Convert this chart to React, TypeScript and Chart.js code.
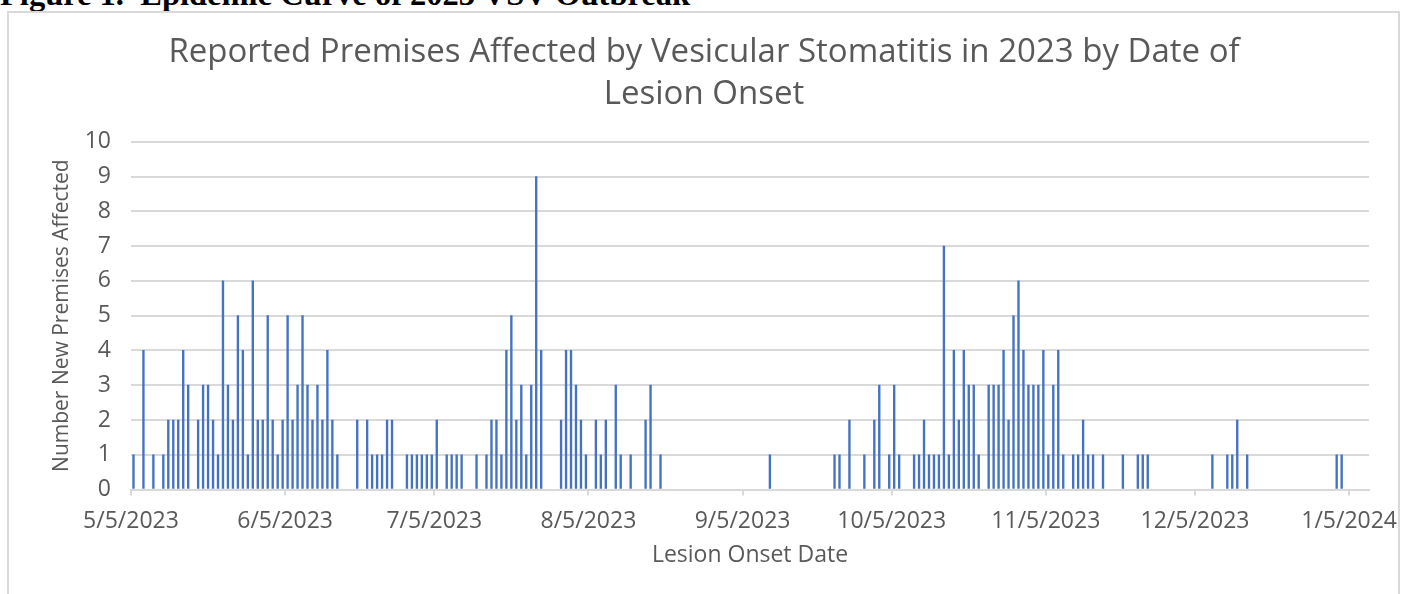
import React, { useEffect, useRef } from "react";
import { Chart, registerables } from "chart.js";

Chart.register(...registerables);

// Lesion onset dates (days with at least one newly affected premises)
const onsetDates: string[] = [
  "2023-05-05", "2023-05-07", "2023-05-09", "2023-05-11", "2023-05-12", "2023-05-13", "2023-05-14", "2023-05-15",
  "2023-05-16", "2023-05-18", "2023-05-19", "2023-05-20", "2023-05-21", "2023-05-22", "2023-05-23", "2023-05-24",
  "2023-05-25", "2023-05-26", "2023-05-27", "2023-05-28", "2023-05-29", "2023-05-30", "2023-05-31",
  "2023-06-01", "2023-06-02", "2023-06-03", "2023-06-04", "2023-06-05", "2023-06-06", "2023-06-07", "2023-06-08",
  "2023-06-09", "2023-06-10", "2023-06-11", "2023-06-12", "2023-06-13", "2023-06-14", "2023-06-15", "2023-06-19",
  "2023-06-21", "2023-06-22", "2023-06-23", "2023-06-24", "2023-06-25", "2023-06-26", "2023-06-29", "2023-06-30",
  "2023-07-01", "2023-07-02", "2023-07-03", "2023-07-04", "2023-07-05", "2023-07-07", "2023-07-08", "2023-07-09",
  "2023-07-10", "2023-07-13", "2023-07-15", "2023-07-16", "2023-07-17", "2023-07-18", "2023-07-19", "2023-07-20",
  "2023-07-21", "2023-07-22", "2023-07-23", "2023-07-24", "2023-07-25", "2023-07-26", "2023-07-30", "2023-07-31",
  "2023-08-01", "2023-08-02", "2023-08-03", "2023-08-04", "2023-08-06", "2023-08-07", "2023-08-08", "2023-08-10",
  "2023-08-11", "2023-08-13", "2023-08-16", "2023-08-17", "2023-08-19",
  "2023-09-10", "2023-09-23", "2023-09-24", "2023-09-26", "2023-09-29",
  "2023-10-01", "2023-10-02", "2023-10-04", "2023-10-05", "2023-10-06", "2023-10-09", "2023-10-10", "2023-10-11",
  "2023-10-12", "2023-10-13", "2023-10-14", "2023-10-15", "2023-10-16", "2023-10-17", "2023-10-18", "2023-10-19",
  "2023-10-20", "2023-10-21", "2023-10-22", "2023-10-24", "2023-10-25", "2023-10-26", "2023-10-27", "2023-10-28",
  "2023-10-29", "2023-10-30", "2023-10-31",
  "2023-11-01", "2023-11-02", "2023-11-03", "2023-11-04", "2023-11-05", "2023-11-06", "2023-11-07", "2023-11-08",
  "2023-11-10", "2023-11-11", "2023-11-12", "2023-11-13", "2023-11-14", "2023-11-16", "2023-11-20", "2023-11-23",
  "2023-11-24", "2023-11-25",
  "2023-12-08", "2023-12-11", "2023-12-12", "2023-12-13", "2023-12-15",
  "2024-01-02", "2024-01-03",
];

// Number of new premises affected on each onset date
const newPremises: number[] = [
  1, 4, 1, 1, 2, 2, 2, 4,
  3, 2, 3, 3, 2, 1, 6, 3,
  2, 5, 4, 1, 6, 2, 2,
  5, 2, 1, 2, 5, 2, 3, 5,
  3, 2, 3, 2, 4, 2, 1, 2,
  2, 1, 1, 1, 2, 2, 1, 1,
  1, 1, 1, 1, 2, 1, 1, 1,
  1, 1, 1, 2, 2, 1, 4, 5,
  2, 3, 1, 3, 9, 4, 2, 4,
  4, 3, 2, 1, 2, 1, 2, 3,
  1, 1, 2, 3, 1,
  1, 1, 1, 2, 1,
  2, 3, 1, 3, 1, 1, 1, 2,
  1, 1, 1, 7, 1, 4, 2, 4,
  3, 3, 1, 3, 3, 3, 4, 2,
  5, 6, 4,
  3, 3, 3, 4, 1, 3, 4, 1,
  1, 1, 2, 1, 1, 1, 1, 1,
  1, 1,
  1, 1, 1, 2, 1,
  1, 1,
];

// Axis extent and monthly tick marks
const axisStartDate = "2023-05-05";
const axisEndDate = "2024-01-09";
const tickDates: string[] = [
  "2023-05-05", "2023-06-05", "2023-07-05", "2023-08-05", "2023-09-05",
  "2023-10-05", "2023-11-05", "2023-12-05", "2024-01-05",
];
const tickLabels: string[] = [
  "5/5/2023", "6/5/2023", "7/5/2023", "8/5/2023", "9/5/2023",
  "10/5/2023", "11/5/2023", "12/5/2023", "1/5/2024",
];

const yTicks: number[] = [0, 1, 2, 3, 4, 5, 6, 7, 8, 9, 10];

const DAY = 86400000;
const dayIndex = (iso: string) =>
  Math.round((new Date(iso).getTime() - new Date(axisStartDate).getTime()) / DAY);

const FONT = '"Open Sans", "Segoe UI", Arial, sans-serif';
const GRAY_TEXT = "#595959";
const GRID = "#D9D9D9";

export default function App() {
  const canvasRef = useRef<HTMLCanvasElement>(null);

  useEffect(() => {
    const canvas = canvasRef.current;
    if (!canvas) return;
    const tickDays = tickDates.map(dayIndex);
    const data = onsetDates.map((d, i) => ({ x: dayIndex(d) + 0.5, y: newPremises[i] }));

    const chart = new Chart(canvas, {
      type: "bar",
      data: {
        datasets: [
          {
            label: "New premises",
            data,
            backgroundColor: "#4472C4",
            borderWidth: 0,
            barThickness: 1.7,
          },
        ],
      },
      options: {
        responsive: false,
        animation: false,
        devicePixelRatio: 1,
        layout: { padding: { left: 39, right: 42, top: 8, bottom: 10 } },
        plugins: {
          legend: { display: false },
          tooltip: { enabled: false },
          title: {
            display: true,
            text: [
              "Reported Premises Affected by Vesicular Stomatitis in 2023 by Date of",
              "Lesion Onset",
            ],
            color: GRAY_TEXT,
            font: { family: FONT, size: 33, weight: "normal", lineHeight: 1.27 },
            padding: { top: 24, bottom: 26 },
          },
        },
        scales: {
          x: {
            type: "linear",
            offset: false,
            min: 0,
            max: dayIndex(axisEndDate),
            afterBuildTicks: (scale: any) => {
              scale.ticks = tickDays.map((v) => ({ value: v }));
            },
            afterFit: (scale: any) => {
              scale.height = 94.5;
            },
            ticks: {
              autoSkip: false,
              maxRotation: 0,
              minRotation: 0,
              padding: 12,
              color: GRAY_TEXT,
              font: { family: FONT, size: 23 },
              callback: (value: any) => {
                const idx = tickDays.indexOf(Number(value));
                return idx >= 0 ? tickLabels[idx] : "";
              },
            },
            grid: {
              offset: false,
              drawOnChartArea: false,
              drawTicks: true,
              tickLength: 6,
              color: GRID,
              lineWidth: 2,
            },
            border: { display: true, color: GRID, width: 2 },
            title: {
              display: true,
              text: "Lesion Onset Date",
              color: GRAY_TEXT,
              font: { family: FONT, size: 23, lineHeight: 1.2 },
              padding: { top: 0, bottom: 15 },
            },
          },
          y: {
            type: "linear",
            min: 0,
            max: 10,
            afterBuildTicks: (scale: any) => {
              scale.ticks = yTicks.map((v) => ({ value: v }));
            },
            afterFit: (scale: any) => {
              scale.width = 92;
            },
            ticks: {
              padding: 20,
              color: GRAY_TEXT,
              font: { family: FONT, size: 23 },
            },
            grid: { color: GRID, lineWidth: 2, drawTicks: false },
            border: { display: false },
            title: {
              display: true,
              text: "Number New Premises Affected",
              color: GRAY_TEXT,
              font: { family: FONT, size: 21, lineHeight: 1.2 },
              padding: { top: 10, bottom: 0 },
            },
          },
        },
      },
    } as any);

    return () => chart.destroy();
  }, []);

  return (
    <div
      style={{
        position: "fixed",
        left: 0,
        top: 0,
        width: 1411,
        height: 594,
        background: "#ffffff",
        overflow: "hidden",
      }}
    >
      <div
        style={{
          position: "absolute",
          left: 0,
          top: -22,
          fontFamily: '"Liberation Serif", "Times New Roman", serif',
          fontWeight: "bold",
          fontSize: 32.5,
          lineHeight: 1,
          whiteSpace: "pre",
          color: "#000",
        }}
      >
        Figure 1.  Epidemic Curve of 2023 VSV Outbreak
      </div>
      <div
        style={{
          position: "absolute",
          left: 7,
          top: 11,
          width: 1389,
          height: 620,
          border: "2px solid #D9D9D9",
          background: "#ffffff",
        }}
      />
      <canvas
        ref={canvasRef}
        width={1411}
        height={594}
        style={{ position: "absolute", left: 0, top: 0, width: 1411, height: 594 }}
      />
    </div>
  );
}
